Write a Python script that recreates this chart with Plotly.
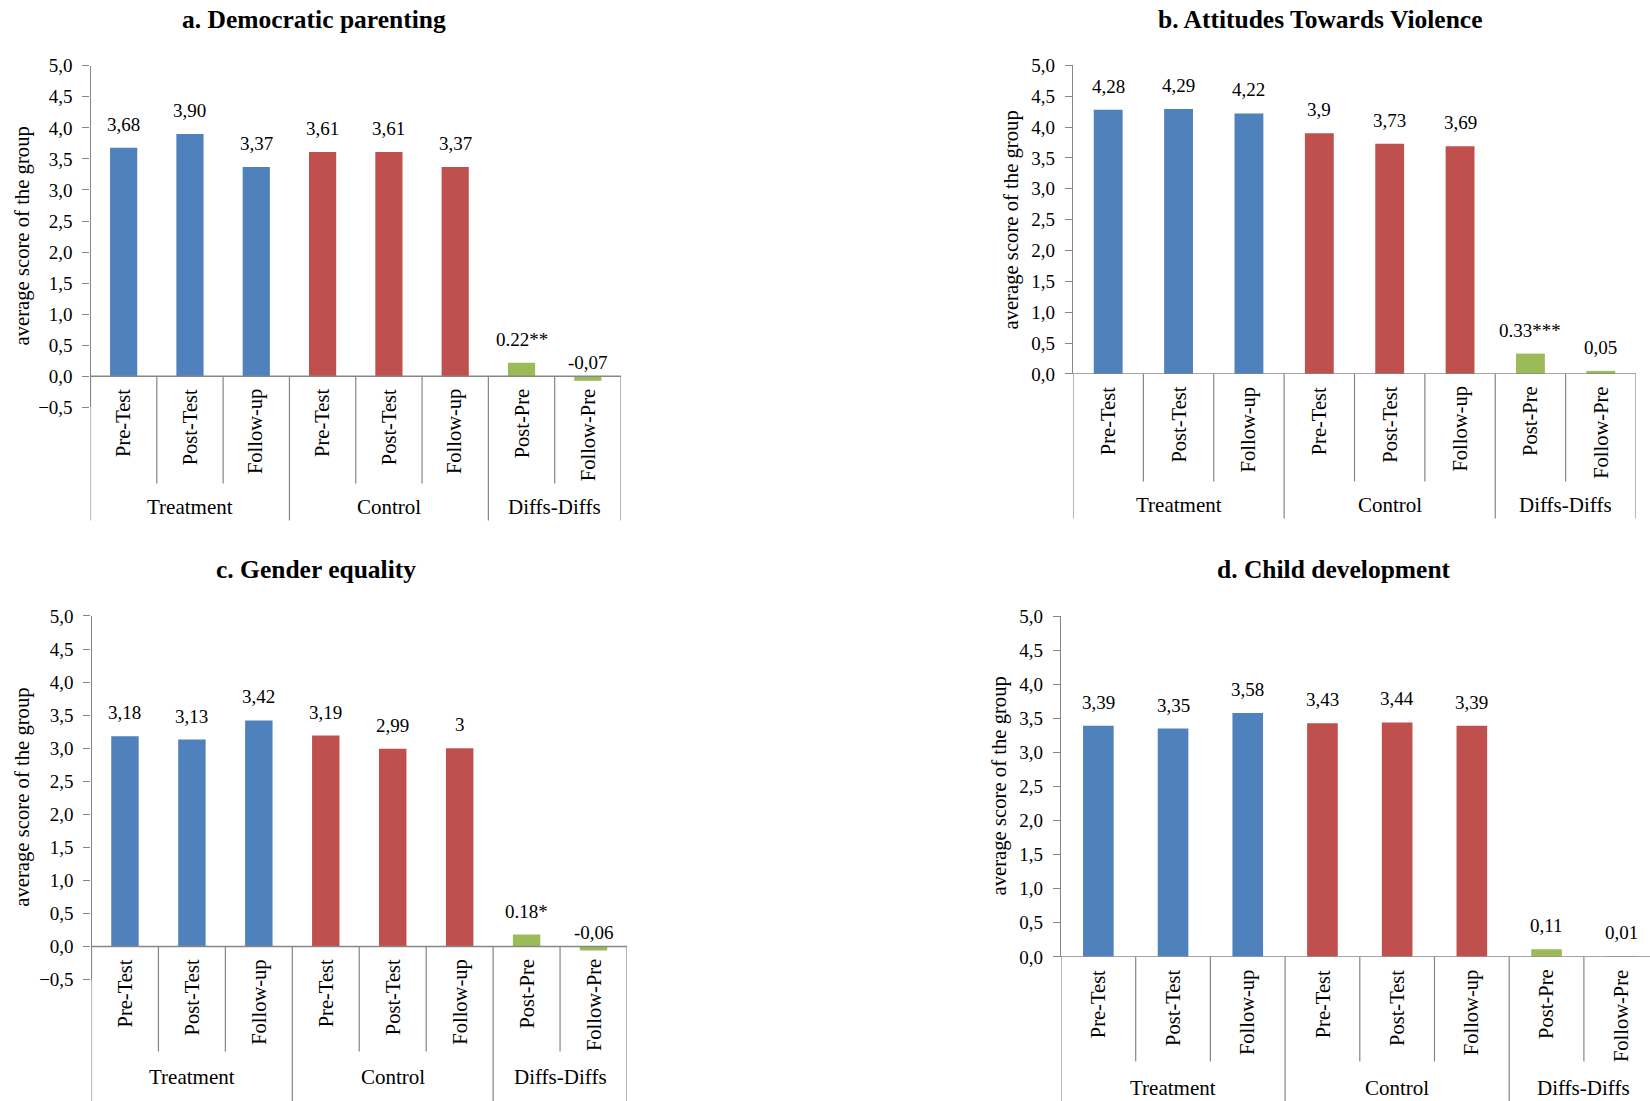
import plotly.graph_objects as go

W, H = 1650, 1101

# ---------------- data ----------------
categories = ["Pre-Test", "Post-Test", "Follow-up", "Pre-Test", "Post-Test", "Follow-up", "Post-Pre", "Follow-Pre"]
groups = ["Treatment", "Control", "Diffs-Diffs"]
group_sizes = [3, 3, 2]

titles = ["a. Democratic parenting", "b. Attitudes Towards Violence",
          "c. Gender equality", "d. Child development"]

democratic_vals = [3.68, 3.90, 3.37, 3.61, 3.61, 3.37, 0.22, -0.07]
democratic_text = ["3,68", "3,90", "3,37", "3,61", "3,61", "3,37", "0.22**", "-0,07"]

violence_vals = [4.28, 4.29, 4.22, 3.90, 3.73, 3.69, 0.33, 0.05]
violence_text = ["4,28", "4,29", "4,22", "3,9", "3,73", "3,69", "0.33***", "0,05"]

gender_vals = [3.18, 3.13, 3.42, 3.19, 2.99, 3.00, 0.18, -0.06]
gender_text = ["3,18", "3,13", "3,42", "3,19", "2,99", "3", "0.18*", "-0,06"]

child_vals = [3.39, 3.35, 3.58, 3.43, 3.44, 3.39, 0.11, 0.01]
child_text = ["3,39", "3,35", "3,58", "3,43", "3,44", "3,39", "0,11", "0,01"]

y_title = "average score of the group"

# ---------------- style ----------------
FONT = "Liberation Serif"
group_colors = ["#4F81BD", "#C0504D", "#9BBB59"]
AX = "#868686"

# panel geometry in (target) pixels
panels = [
    dict(vals=democratic_vals, text=democratic_text, title=titles[0],
         x0=90.5, x1=621, ytop=66.5, ybot=408, ymin=-0.5, xmax=7.5,
         sep_bot=484, grp_bot=521, grp_y=508, tx=314, ty=20, ytx=23),
    dict(vals=violence_vals, text=violence_text, title=titles[1],
         x0=1073, x1=1636, ytop=66, ybot=374.6, ymin=0.0, xmax=7.5,
         sep_bot=482, grp_bot=519, grp_y=506, tx=1320, ty=20, ytx=1012),
    dict(vals=gender_vals, text=gender_text, title=titles[2],
         x0=91.5, x1=627, ytop=616.5, ybot=980, ymin=-0.5, xmax=7.5,
         sep_bot=1052, grp_bot=1101, grp_y=1077.6, tx=316, ty=570, ytx=23),
    dict(vals=child_vals, text=child_text, title=titles[3],
         x0=1061, x1=1650, ytop=616.7, ybot=957.3, ymin=0.0, xmax=7.385,
         sep_bot=1062, grp_bot=1101, grp_y=1088, tx=1334, ty=570, ytx=1000),
]

# vertical calibration of the rendered page
VK, VB = 0.9806, 10.75


def vy(px):
    return (px - VB) / VK


def py(px):
    return 1 - vy(px) / H


def pxx(px):
    return px / W


bar_colors = []
for g, n in zip(range(len(groups)), group_sizes):
    bar_colors += [group_colors[g]] * n

fig = go.Figure()
annotations = []
shapes = []
layout_axes = {}

group_bounds = [0]
for n in group_sizes:
    group_bounds.append(group_bounds[-1] + n)

for k, p in enumerate(panels):
    sfx = "" if k == 0 else str(k + 1)
    xa, ya = "x" + sfx, "y" + sfx
    xs = list(range(len(categories)))

    fig.add_trace(go.Bar(
        x=xs, y=p["vals"], xaxis=xa, yaxis=ya, width=0.41,
        marker=dict(color=bar_colors, line=dict(width=0)),
        showlegend=False, hoverinfo="skip"))

    layout_axes["xaxis" + sfx] = dict(
        domain=[pxx(p["x0"]), min(1.0, pxx(p["x1"]))], anchor=ya,
        range=[-0.5, p["xmax"]], showticklabels=False, showline=False,
        zeroline=False, showgrid=False, ticks="", fixedrange=True)
    layout_axes["yaxis" + sfx] = dict(
        domain=[py(p["ybot"]), py(p["ytop"])], anchor=xa,
        range=[p["ymin"], 5.0], dtick=0.5, tick0=0, tickformat=".1f",
        showline=True, linecolor=AX, linewidth=1.2,
        ticks="outside", ticklen=7, tickcolor=AX, tickwidth=1,
        ticklabelstandoff=6,
        tickfont=dict(family=FONT, size=19, color="#000"),
        showgrid=False, zeroline=False, fixedrange=True)

    # x axis line at zero
    shapes.append(dict(type="line", xref=xa, yref=ya, x0=-0.5, x1=7.5, y0=0, y1=0,
                       line=dict(color=AX, width=1.5)))
    zero_px = p["ytop"] + (5.0 - 0) / (5.0 - p["ymin"]) * (p["ybot"] - p["ytop"])
    # category separators
    for b in range(len(categories) + 1):
        bottom = p["grp_bot"] if b in group_bounds else p["sep_bot"]
        if bottom >= 1100:
            bottom += 12
        shapes.append(dict(type="line", xref=xa, yref="paper",
                           x0=b - 0.5, x1=b - 0.5, y0=py(zero_px), y1=py(bottom),
                           line=dict(color=AX, width=1.2)))

    # data labels
    for i, (v, t) in enumerate(zip(p["vals"], p["text"])):
        annotations.append(dict(
            xref=xa, yref=ya, x=i, y=max(v, 0), text=t, showarrow=False,
            xanchor="center", yanchor="middle", yshift=23.5 if v >= 0 else 14,
            font=dict(family=FONT, size=19, color="#000")))

    # category labels (rotated)
    for i, c in enumerate(categories):
        annotations.append(dict(
            xref=xa, yref=ya, x=i, y=0, text=c, showarrow=False,
            textangle=-90, xanchor="center", yanchor="top", yshift=-11,
            font=dict(family=FONT, size=20.5, color="#000")))

    # group labels
    for g, name in enumerate(groups):
        cx = (group_bounds[g] + group_bounds[g + 1] - 1) / 2
        annotations.append(dict(
            xref=xa, yref="paper", x=cx, y=py(p["grp_y"]), text=name,
            showarrow=False, xanchor="center", yanchor="middle",
            font=dict(family=FONT, size=21, color="#000")))

    # y axis title
    annotations.append(dict(
        xref="paper", yref="paper", x=pxx(p["ytx"]), y=py((p["ytop"] + p["ybot"]) / 2),
        text=y_title, showarrow=False, textangle=-90,
        xanchor="center", yanchor="middle",
        font=dict(family=FONT, size=20.7, color="#000")))

    # panel title
    annotations.append(dict(
        xref="paper", yref="paper", x=pxx(p["tx"]), y=py(p["ty"]),
        text="<b>" + p["title"] + "</b>", showarrow=False,
        xanchor="center", yanchor="middle",
        font=dict(family=FONT, size=25.5, color="#000")))

fig.update_layout(
    width=W, height=H, margin=dict(l=0, r=0, t=0, b=0),
    paper_bgcolor="white", plot_bgcolor="white",
    separators=",.", showlegend=False,
    annotations=annotations, shapes=shapes,
    **layout_axes)

fig.write_html(
    "out.html",
    config={"responsive": False, "displayModeBar": False},
    post_script=(
        "document.documentElement.style.margin='0';"
        "document.body.style.margin='0';"
        "document.documentElement.style.overflow='hidden';"
        "document.body.style.overflow='hidden';"
    ),
)
